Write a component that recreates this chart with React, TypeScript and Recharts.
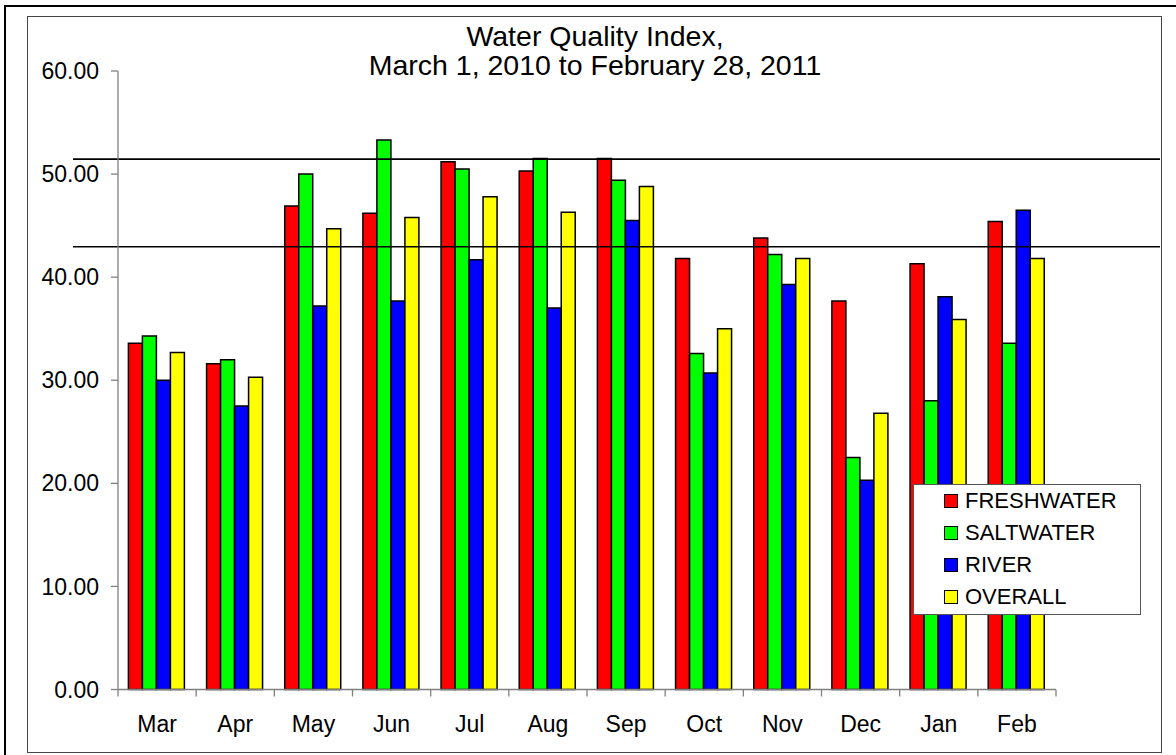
import React from 'react';
import { BarChart, Bar, XAxis, YAxis, ReferenceLine, Legend } from 'recharts';

const MONTHS = ['Mar', 'Apr', 'May', 'Jun', 'Jul', 'Aug', 'Sep', 'Oct', 'Nov', 'Dec', 'Jan', 'Feb'];
const FRESHWATER = [33.6, 31.6, 46.9, 46.2, 51.2, 50.3, 51.5, 41.8, 43.8, 37.7, 41.3, 45.4];
const SALTWATER = [34.3, 32.0, 50.0, 53.3, 50.5, 51.5, 49.4, 32.6, 42.2, 22.5, 28.0, 33.6];
const RIVER = [30.0, 27.5, 37.2, 37.7, 41.7, 37.0, 45.5, 30.7, 39.3, 20.3, 38.1, 46.5];
const OVERALL = [32.7, 30.3, 44.7, 45.8, 47.8, 46.3, 48.8, 35.0, 41.8, 26.8, 35.9, 41.8];
const Y_TICKS = [0, 10, 20, 30, 40, 50, 60];
const THRESHOLDS = [51.45, 42.95];

const SERIES = [
  { key: 'freshwater', name: 'FRESHWATER', color: '#ff0000' },
  { key: 'saltwater', name: 'SALTWATER', color: '#00ff00' },
  { key: 'river', name: 'RIVER', color: '#0000ff' },
  { key: 'overall', name: 'OVERALL', color: '#ffff00' },
];

const data = MONTHS.map((m, i) => ({
  month: m,
  freshwater: FRESHWATER[i],
  saltwater: SALTWATER[i],
  river: RIVER[i],
  overall: OVERALL[i],
}));

const W = 1176;
const H = 755;
const LEFT = 118; // y axis position
const RIGHT = 120;
const TOP = 71;
const AXIS_Y = 689.5;
const BAND = (W - LEFT - RIGHT) / MONTHS.length;
const FONT = '"Liberation Sans", Arial, sans-serif';
const AXIS_GRAY = '#808080';

const XTick = (props: any) => {
  const { x, y, payload, index } = props;
  return (
    <g>
      <line x1={x - BAND / 2} x2={x - BAND / 2} y1={AXIS_Y} y2={AXIS_Y + 7} stroke={AXIS_GRAY} strokeWidth={1.3} />
      {index === MONTHS.length - 1 && (
        <line x1={x + BAND / 2} x2={x + BAND / 2} y1={AXIS_Y} y2={AXIS_Y + 7} stroke={AXIS_GRAY} strokeWidth={1.3} />
      )}
      <text x={x} y={y} dy="0.71em" textAnchor="middle" fill="#000" fontSize={23} fontFamily={FONT}>
        {payload.value}
      </text>
    </g>
  );
};

const ThresholdLine = (props: any) => (
  <line x1={73} x2={1160} y1={props.y1} y2={props.y2} stroke="#000" strokeWidth={1.6} />
);

// legend keeps the series order, not alphabetical
const LegendBox = () => (
  <div
    style={{
      width: 226,
      height: 129,
      border: '1px solid #555',
      background: '#fff',
      fontFamily: FONT,
      fontSize: 22,
      position: 'relative',
    }}
  >
    {SERIES.map((s, i) => (
      <div
        key={s.key}
        style={{ position: 'absolute', left: 30, top: 2 + i * 32, height: 28, display: 'flex', alignItems: 'center' }}
      >
        <span
          style={{
            display: 'inline-block',
            width: 12,
            height: 12,
            background: s.color,
            border: '1.5px solid #000',
            marginRight: 7,
          }}
        />
        <span style={{ color: '#000' }}>{s.name}</span>
      </div>
    ))}
  </div>
);

export default function App() {
  return (
    <div style={{ position: 'absolute', left: 0, top: 0, width: W, height: H, overflow: 'hidden', background: '#fff' }}>
      <div
        style={{
          position: 'absolute',
          left: 4,
          top: 5,
          width: W,
          height: H,
          borderLeft: '2px solid #000',
          borderTop: '2px solid #000',
        }}
      />
      <div
        style={{
          position: 'absolute',
          left: 27,
          top: 16,
          width: 1133,
          height: 735,
          border: '1px solid #444',
        }}
      />
      <div
        style={{
          position: 'absolute',
          left: 0,
          width: W,
          top: 22,
          textAlign: 'center',
          fontFamily: FONT,
          fontSize: 28.5,
          lineHeight: '29px',
          color: '#000',
          paddingLeft: 14,
          boxSizing: 'border-box',
        }}
      >
        Water Quality Index,
        <br />
        March 1, 2010 to February 28, 2011
      </div>
      <div style={{ position: 'absolute', left: 0, top: 0 }}>
        <BarChart
          width={W}
          height={H}
          data={data}
          margin={{ top: TOP, right: RIGHT, left: 0, bottom: H - AXIS_Y - 40 }}
          barCategoryGap={10.4}
          barGap={0}
          style={{ fontFamily: FONT }}
        >
          <XAxis
            dataKey="month"
            height={40}
            tickLine={false}
            tickSize={7}
            tickMargin={19}
            tick={<XTick />}
            axisLine={{ stroke: AXIS_GRAY, strokeWidth: 1.3 }}
            interval={0}
          />
          <YAxis
            width={LEFT}
            domain={[0, 60]}
            ticks={Y_TICKS}
            tickFormatter={(v: number) => v.toFixed(2)}
            tickSize={7}
            tickMargin={12}
            tick={{ fill: '#000', fontSize: 23, fontFamily: FONT }}
            tickLine={{ stroke: AXIS_GRAY, strokeWidth: 1.3 }}
            axisLine={{ stroke: AXIS_GRAY, strokeWidth: 1.3 }}
            interval={0}
          />
          {SERIES.map((s) => (
            <Bar
              key={s.key}
              dataKey={s.key}
              name={s.name}
              fill={s.color}
              stroke="#000"
              strokeWidth={1.5}
              isAnimationActive={false}
            />
          ))}
          {THRESHOLDS.map((t) => (
            <ReferenceLine key={t} y={t} shape={ThresholdLine} />
          ))}
          <Legend
            layout="vertical"
            align="center"
            verticalAlign="middle"
            content={<LegendBox />}
            wrapperStyle={{ position: 'absolute', left: 913, top: 484, width: 228, height: 131 }}
          />
        </BarChart>
      </div>
    </div>
  );
}
